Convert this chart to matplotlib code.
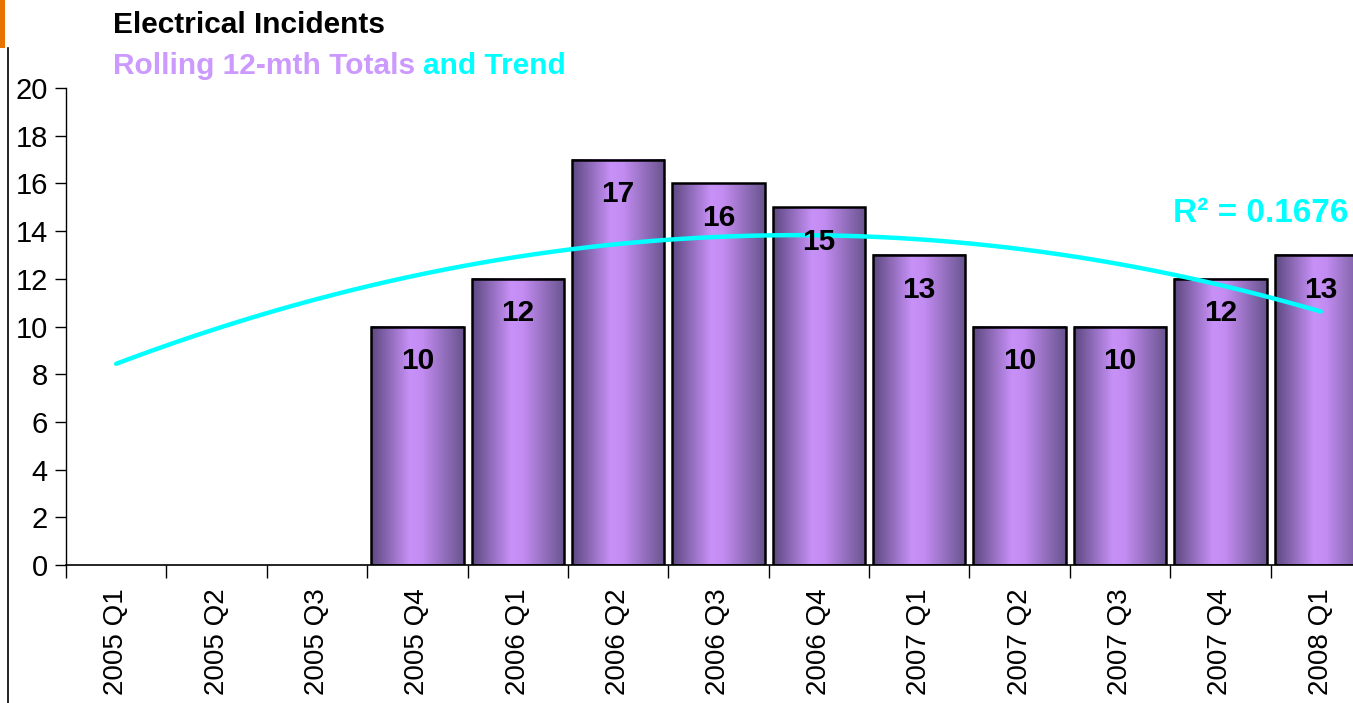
import numpy as np
import matplotlib
matplotlib.use("Agg")
import matplotlib.pyplot as plt
from matplotlib.colors import LinearSegmentedColormap
from matplotlib.patches import Rectangle

plt.rcParams['font.family'] = ['Liberation Sans', 'DejaVu Sans']

# data
quarters = ["2005 Q1", "2005 Q2", "2005 Q3", "2005 Q4", "2006 Q1", "2006 Q2", "2006 Q3",
            "2006 Q4", "2007 Q1", "2007 Q2", "2007 Q3", "2007 Q4", "2008 Q1"]
totals = [None, None, None, 10, 12, 17, 16, 15, 13, 10, 10, 12, 13]
r2_label = "R² = 0.1676"

fig = plt.figure(figsize=(13.53, 7.03), dpi=100)
W, H = 1353, 703
ax = fig.add_axes([66 / W, 138 / H, 1305 / W, 477 / H])

# bar shading: dark edges, light middle
cmap = LinearSegmentedColormap.from_list("bar", [
    (0.0, "#5c4880"), (0.42, "#c891f8"), (0.55, "#c38cf2"), (1.0, "#68548e")])
grad = np.linspace(0, 1, 256).reshape(1, -1)

bw = 0.92
x = np.arange(len(quarters))
for i, v in enumerate(totals):
    if v is None:
        continue
    ax.imshow(grad, extent=[i - bw / 2, i + bw / 2, 0, v], aspect='auto', cmap=cmap,
              origin='lower', zorder=2)
    ax.add_patch(Rectangle((i - bw / 2, 0), bw, v, facecolor='none', edgecolor='black',
                           linewidth=1.8, zorder=3))
    ax.text(i, v - 1.45, str(v), ha='center', va='center', fontsize=21.5,
            fontweight='bold', color='black', zorder=5)

# polynomial (order 2) trend over the quarters with data
xs = np.array([i for i, v in enumerate(totals) if v is not None])
ys = np.array([v for v in totals if v is not None])
coef = np.polyfit(xs + 1, ys, 2)
xt = np.linspace(0, len(quarters) - 1, 200)
ax.plot(xt, np.polyval(coef, xt + 1), color='#00ffff', linewidth=3.2, zorder=4,
        solid_capstyle='round')
ax.text(12.28, 14.75, r2_label, ha='right', va='center', fontsize=24,
        fontweight='bold', color='#00ffff', zorder=5)

ax.set_xlim(-0.5, len(quarters) - 0.5)
ax.set_ylim(0, 20)
ax.set_yticks(range(0, 21, 2))
ax.set_xticks(x)
ax.set_xticklabels(quarters, rotation=90, fontsize=20)
ax.set_xticks(np.arange(-0.5, len(quarters), 1), minor=True)
ax.tick_params(axis='x', which='major', length=0, pad=17)
ax.tick_params(axis='x', which='minor', length=9, width=1, direction='out')
ax.tick_params(axis='y', length=8, width=1, direction='out', labelsize=21, pad=5)
for s in ['top', 'right']:
    ax.spines[s].set_visible(False)
ax.spines['left'].set_linewidth(1)
ax.spines['bottom'].set_linewidth(1.2)

# titles
fig.text(113 / W, 1 - 25 / H, "Electrical Incidents", fontsize=21.5, fontweight='bold',
         color='black', va='center', ha='left')
t1 = fig.text(113 / W, 1 - 66 / H, "Rolling 12-mth Totals ", fontsize=21.5, fontweight='bold',
              color='#cc99ff', va='center', ha='left')
fig.canvas.draw()
bb = t1.get_window_extent()
fig.text(bb.x1 / W, 1 - 66 / H, "and Trend", fontsize=21.5, fontweight='bold',
         color='#00ffff', va='center', ha='left')

# frame bits at the left edge
fig.add_artist(plt.Line2D([8 / W, 8 / W], [0, 1 - 48 / H], color='black', linewidth=1.2))
fig.add_artist(Rectangle((0, 1 - 48 / H), 5 / W, 48 / H, facecolor='#e87400',
                         edgecolor='none', transform=fig.transFigure))

fig.savefig("out.png", dpi=100)
